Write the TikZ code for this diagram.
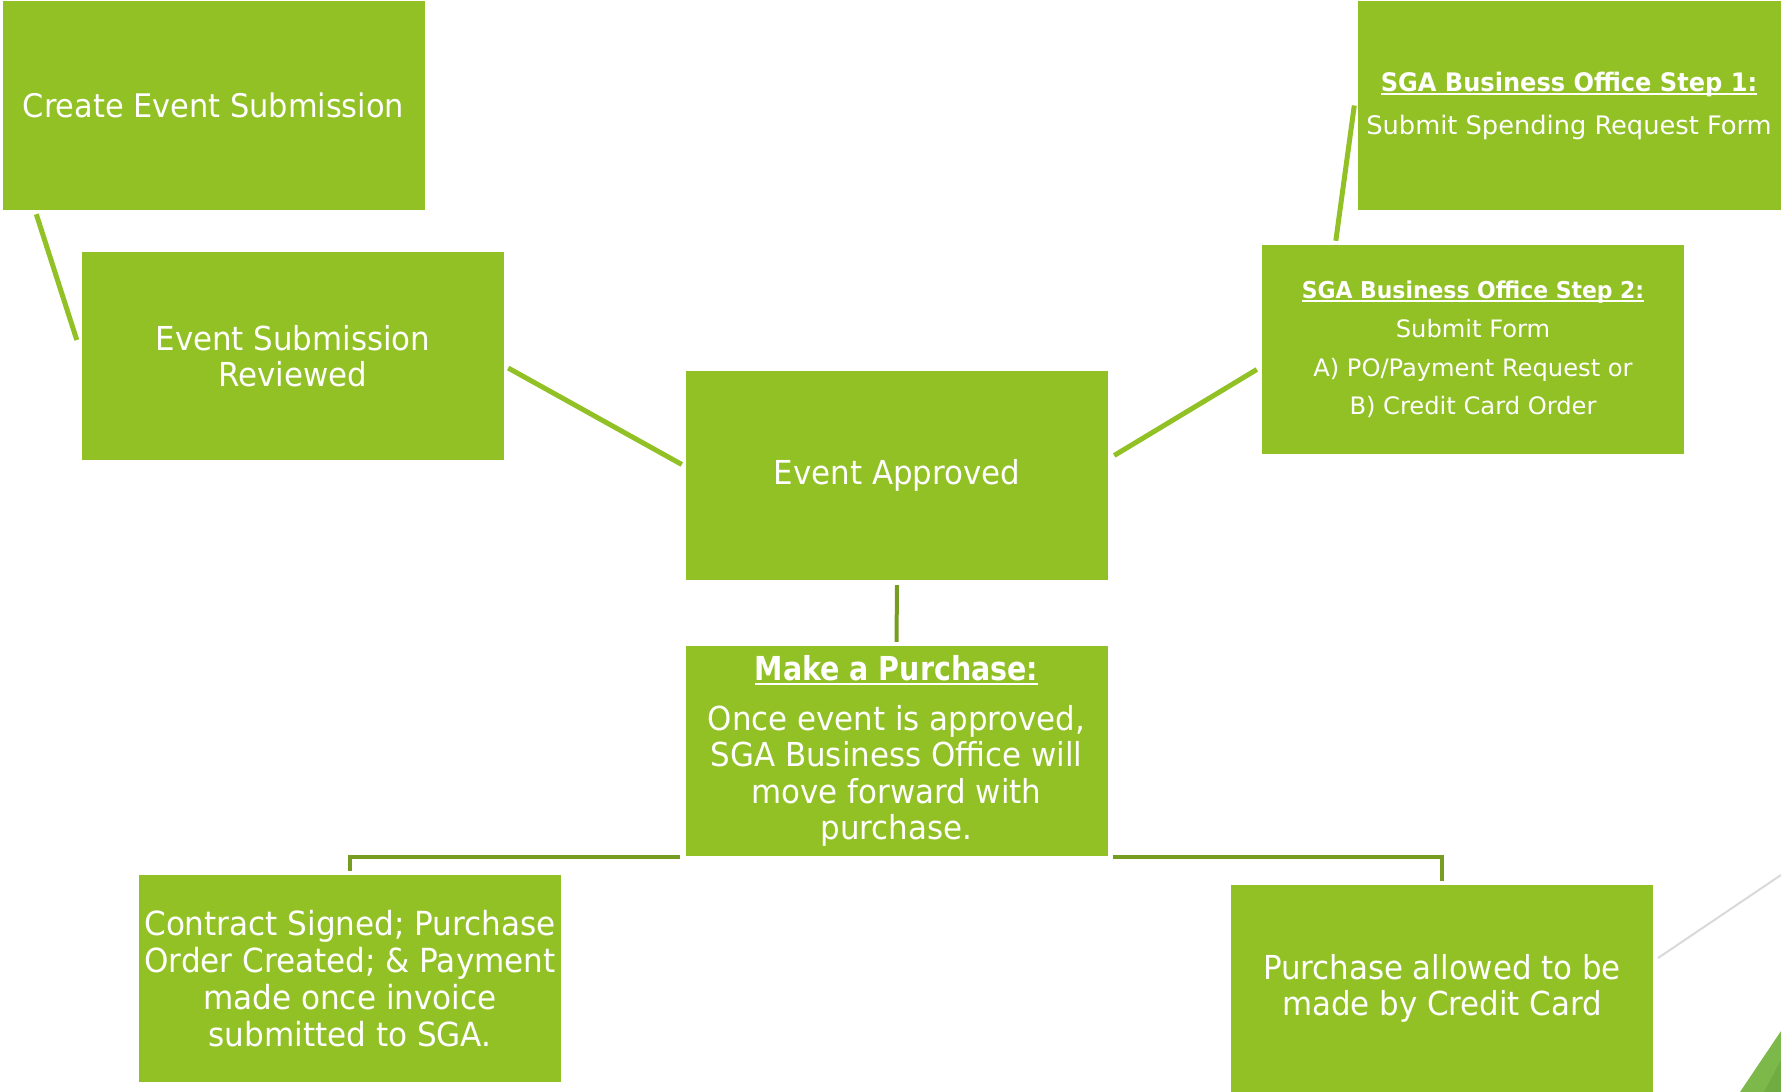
\documentclass[tikz,border=0pt]{standalone}
\usepackage{fontspec}
\setmainfont{DejaVu Sans Condensed}[FakeStretch=1.04, BoldFeatures={FakeStretch=0.96}]
\newfontfamily\stepfont{DejaVu Sans Condensed}[FakeStretch=1.12, BoldFeatures={FakeStretch=1.05}]
\usetikzlibrary{calc}
\definecolor{boxgreen}{HTML}{92C126}
\definecolor{linedark}{HTML}{779C22}
\definecolor{trigreen}{HTML}{7DB84A}
\definecolor{trigreendark}{HTML}{70AC42}
\definecolor{lightgray}{HTML}{D9D9D9}
\newcommand\myul[1]{\setbox0\hbox{#1}\leavevmode\rlap{\rule[-0.14em]{\wd0}{0.07em}}\box0}
\tikzset{
  gbox/.style={fill=boxgreen, text=white, minimum width=422pt, minimum height=208pt, inner sep=0pt, align=center},
  bigtxt/.style={font=\fontsize{33}{36}\selectfont},
  diag/.style={draw=boxgreen, line width=5pt},
  elbow/.style={draw=linedark, line width=4pt},
}
\begin{document}
\begin{tikzpicture}[x=1pt,y=-1pt]
\useasboundingbox (0,0) rectangle (1781,1092);
\node[gbox,font=\fontsize{32.5}{36}\selectfont, minimum height=209pt] (create) at (213.5,105.5) {Create Event Submission};
\node[gbox,bigtxt] (rev) at (293,356) {Event Submission\\Reviewed};
\node[gbox,bigtxt, minimum height=209pt] (appr) at (897,475.5) {Event Approved};
\node[gbox,font=\fontsize{33}{36.5}\selectfont, minimum height=210pt] (purch) at (896.5,751) {\textbf{\myul{Make a Purchase:}}\\[13pt]Once event is approved,\\SGA Business Office will\\move forward with\\purchase.};
\node[gbox,font=\stepfont\fontsize{25.5}{43}\selectfont, minimum width=423pt, minimum height=209pt] (step1) at (1569,105.5) {\textbf{\myul{SGA Business Office Step 1:}}\\Submit Spending Request Form};
\node[gbox,font=\stepfont\fontsize{24}{38.6}\selectfont, minimum height=209pt] (step2) at (1473,349.5) {{\fontsize{23.2}{38.6}\selectfont\textbf{\myul{SGA Business Office Step 2:}}}\\Submit Form\\A) PO/Payment Request or\\B) Credit Card Order};
\node[gbox,font=\fontsize{33.2}{37}\selectfont, minimum height=207pt] (contract) at (350,978.5) {Contract Signed; Purchase\\Order Created; \& Payment\\made once invoice\\submitted to SGA.};
\node[gbox,bigtxt, minimum height=207pt] (credit) at (1442,988.5) {Purchase allowed to be\\made by Credit Card};
% connectors
\draw[diag] ($(create.south west)+(34,4)$) -- ($(rev.west)+(-5,-16)$);
\draw[diag] ($(rev.east)+(4,12)$) -- ($(appr.west)+(-4,-11)$);
\draw[diag] ($(appr.east)+(6,-20)$) -- ($(step2.west)+(-5,20)$);
\draw[diag] ($(step2.north west)+(74,-4)$) -- ($(step1.west)+(-3,0)$);
\draw[elbow] ($(appr.south)+(0,5)$) -- ($(purch.north)+(0,-4)$);
\draw[elbow] ($(purch.south west)+(-5,1)$) -| ($(contract.north)+(0,-4)$);
\draw[elbow] ($(purch.south east)+(5,1)$) -| ($(credit.north)+(0,-4)$);
% decorations
\coordinate (g1) at (1658,958);
\coordinate (g2) at (1781,875);
\draw[lightgray, line width=2pt] (g1) -- (g2);
\fill[trigreen] (1740,1092) -- (1781,1031) -- (1781,1092) -- cycle;
\fill[trigreendark] (1764,1092) -- (1781,1060) -- (1781,1092) -- cycle;
\end{tikzpicture}
\end{document}
